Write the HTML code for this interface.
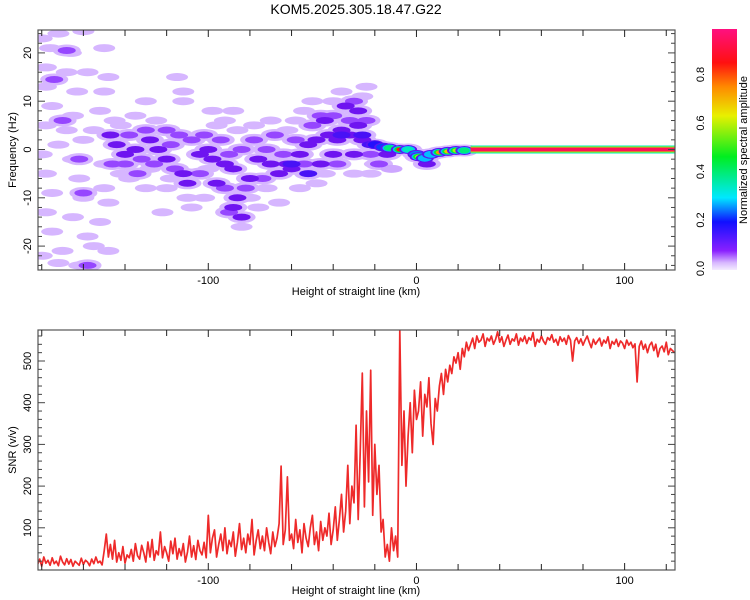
<!DOCTYPE html>
<html><head><meta charset="utf-8"><style>
body{margin:0;background:#fff;}
svg{display:block;font-family:"Liberation Sans",sans-serif;}
</style></head><body>
<svg id="fig" width="750" height="600" viewBox="0 0 750 600">
<text x="356" y="14" text-anchor="middle" font-size="14">KOM5.2025.305.18.47.G22</text>
<defs>
<linearGradient id="cb" x1="0" y1="1" x2="0" y2="0">
<stop offset="0" stop-color="#f4ecff"/><stop offset="0.03" stop-color="#d8b8ff"/>
<stop offset="0.08" stop-color="#8a20ff"/><stop offset="0.2" stop-color="#1010ff"/>
<stop offset="0.3" stop-color="#00e8ff"/><stop offset="0.47" stop-color="#00ee20"/>
<stop offset="0.64" stop-color="#e8f000"/><stop offset="0.76" stop-color="#ff8a00"/>
<stop offset="0.86" stop-color="#ff1010"/><stop offset="1" stop-color="#ff1080"/>
</linearGradient>
<clipPath id="c1"><rect x="38" y="30" width="637" height="240"/></clipPath>
<clipPath id="c2"><rect x="38" y="330" width="637" height="240"/></clipPath>
</defs>
<g id="heat" clip-path="url(#c1)"></g>
<g id="snr" clip-path="url(#c2)"></g>
<g id="axes"></g>
<rect x="712" y="29" width="25" height="241" fill="url(#cb)"/>
<g id="cbl"></g>
<text transform="translate(747,150) rotate(-90)" text-anchor="middle" font-size="11">Normalized spectral amplitude</text>
<text x="356" y="295" text-anchor="middle" font-size="11">Height of straight line (km)</text>
<text x="356" y="594" text-anchor="middle" font-size="11">Height of straight line (km)</text>
<text transform="translate(16,150) rotate(-90)" text-anchor="middle" font-size="11">Frequency (Hz)</text>
<text transform="translate(16,450) rotate(-90)" text-anchor="middle" font-size="11">SNR (v/v)</text>
</svg>
<script>
const xTicks=[-100,0,100];
const fTicks=[-20,-10,0,10,20];
const snrTicks=[100,200,300,400,500];
const cbTicks=["0.0","0.2","0.4","0.6","0.8"];
// blobs: x km, f Hz, amplitude
const blobX=[-180,-172,-160,-176,-166,-150,-178,-168,-158,-148,-178,-163,-150,-175,-165,-152,-178,-168,-155,-142,-172,-160,-180,-165,-150,-178,-162,-150,-175,-160,-148,-178,-165,-152,-175,-158,-170,-155,-180,-162,-148,-172,
-168,-174,-170,-162,-158,-160,
-145,-138,-130,-120,-112,-110,-125,-118,-108,-100,-96,-92,-86,-80,-78,-72,-70,-66,-62,-102,-128,-142,-135,-115,-112,-98,-84,-76,-88,-130,-122,
-146,-140,-138,-132,-126,-130,-118,-114,-108,-102,-94,-90,-84,-78,-82,-72,-68,-64,-92,-116,-120,-134,-104,-90,-74,
-147,-144,-140,-135,-128,-124,-120,-112,-110,-104,-100,-98,-96,-92,-88,-86,-88,-84,-80,-76,-70,-66,-62,-60,
-58,-54,-50,-44,-40,-36,-26,-24,-48,-56,-30,-22,-20,
-58,-54,-50,-46,-40,-38,-32,-24,-22,-30,
-56,-52,-48,-46,-42,-38,-36,-32,-28,-26,-30,-40,-34,-28,-44,
-60,-52,-36,-26,-22,
-18,-14,5,-12,
-20,-16,-13,-8,-4,0,1,4,7,11,15,19,23];
const blobF=[23,24,24.5,21,20,21,17,16,16,15,13,12,12,9,7,8,5,4,4,5,1,2,-1,-2,-3,-5,-6,-8,-9,-10,-11,-13,-14,-15,-17,-18,-21,-20,-22,-24,-21,-23.5,
20.5,14.5,6,-2,-24,-9,
6,-6,-8,-8,10,-10,6,-6,-12,-4,5,6,4,-10,5,-8,6,-11,4,-10,-4,-5,7,15,12,8,-16,-12,8,10,-13,
-3,-3,3,-2,-3,4,1,3,2,3,2,-1,0,2,-8,0,3,-1,-8,-4,4,-5,-5,-13,-6,
3,1,-1,0,2,0,-2,-5,-7,-1,0,-2,-7,-3,-4,-10,-12,-14,-6,-2,-3,-5,-3,-4,
6,8,10,-5,10,12,11,13,-7,-8,-5,-5,-3,
2,-3,5,7,7,-3,6,6,-1,10,
-1,1,2,-3,3,2,4,3,5,2,-1,-1,9,8,6,
-3,-5,3,3,1,
-3,-1,-3,-4,
1,0.5,0.3,0,0,-1,-1.5,-1.8,-1,-0.6,-0.4,-0.2,-0.2];
const blobA=[.035,.035,.035,.035,.035,.035,.035,.035,.035,.035,.035,.035,.035,.035,.035,.035,.035,.035,.035,.035,.035,.035,.035,.035,.035,.035,.035,.035,.035,.035,.035,.035,.035,.035,.035,.035,.035,.035,.035,.035,.035,.035,
.07,.07,.07,.07,.07,.07,
.035,.035,.035,.035,.035,.035,.035,.035,.035,.035,.035,.035,.035,.035,.035,.035,.035,.035,.035,.035,.035,.035,.035,.035,.035,.035,.035,.035,.035,.035,.035,
.07,.07,.07,.07,.07,.07,.07,.07,.07,.07,.07,.07,.07,.07,.07,.07,.07,.07,.07,.07,.07,.07,.07,.07,.07,
.1,.1,.1,.1,.1,.1,.1,.1,.1,.1,.1,.1,.1,.1,.1,.1,.1,.1,.1,.1,.1,.1,.1,.1,
.035,.035,.035,.035,.035,.035,.035,.035,.035,.035,.035,.035,.035,
.07,.07,.07,.07,.07,.07,.07,.07,.07,.07,
.1,.1,.1,.1,.1,.1,.1,.1,.1,.1,.1,.1,.1,.1,.1,
.14,.14,.14,.14,.14,
.07,.1,.1,.04,
.18,.22,.4,.85,.35,.25,.6,.3,.28,.75,.7,.6,.4];
const lineX=[26,124];
const lineF=[0];
const lineA=[0.95];
const snrStart=-182;
const snrVals=[12,25,8,30,15,22,10,28,14,20,9,32,18,11,26,13,24,8,20,15,10,27,12,22,18,9,25,14,30,16,20,11,
45,85,30,60,25,70,18,40,22,55,15,35,28,48,20,62,33,25,58,40,18,66,30,72,22,45,35,90,28,55,40,20,68,38,75,25,50,33,62,18,42,80,30,57,24,70,45,35,65,28,
130,40,75,95,30,60,85,45,100,38,70,55,90,32,65,110,48,75,40,85,60,120,35,70,95,50,80,45,100,65,38,90,55,75,110,248,60,95,222,70,
85,50,120,65,95,40,110,75,55,100,130,60,90,45,115,70,100,80,135,60,
95,150,70,120,180,90,140,250,110,200,160,346,120,280,471,150,380,210,478,130,300,180,250,90,120,
30,60,20,100,45,80,30,
575,250,380,200,320,400,280,430,360,
380,450,320,420,390,460,350,300,410,380,440,470,420,480,450,490,470,510,495,520,480,530,510,545,525,
540,555,530,560,545,550,565,535,555,548,560,540,552,570,545,558,535,550,562,540,553,548,565,538,555,547,560,542,556,550,568,535,552,545,560,548,540,556,550,563,545,552,538,558,547,555,540,561,550,500,548,556,542,553,538,550,560,545,532,552,540,548,555,536,550,543,558,530,547,540,552,535,548,543,530,550,538,545,532,541,450,535,548,528,540,520,538,545,525,540,510,530,536,522,545,515,530,525,520];

const NS='http://www.w3.org/2000/svg';
const X0=-181.8,X1=124.2,PL=38,PR=675;
const sx=v=>PL+(v-X0)/(X1-X0)*(PR-PL);
const sf=v=>149.5-v*4.83;
const ss=v=>569.5-v*0.417;
const scb=v=>268.5-v*242.5;
function mk(t,a,p){const e=document.createElementNS(NS,t);for(const k in a)e.setAttribute(k,a[k]);(p||document.getElementById('fig')).appendChild(e);return e;}
const stops=[[0,[248,242,255]],[0.035,[214,182,255]],[0.07,[150,70,255]],[0.1,[110,20,240]],[0.2,[16,16,255]],[0.3,[0,232,255]],[0.47,[0,238,32]],[0.64,[232,240,0]],[0.76,[255,138,0]],[0.86,[255,16,16]],[1,[255,16,128]]];
function cmap(a){for(let i=1;i<stops.length;i++){if(a<=stops[i][0]){const[t0,c0]=stops[i-1],[t1,c1]=stops[i];const u=(a-t0)/(t1-t0);return 'rgb('+c0.map((c,j)=>Math.round(c+(c1[j]-c)*u)).join(',')+')';}}return 'rgb(255,16,128)';}
const heat=document.getElementById('heat');
function blob(cx,cy,rx,ry,fill,name){const e=mk('ellipse',{cx:cx,cy:cy,rx:rx,ry:ry,fill:fill},heat);
  
  }
for(let i=0;i<blobX.length;i++){
  if(blobA[i]<0.06)continue;
  blob(sx(blobX[i]),sf(blobF[i]),14,6,cmap(0.035),'spectral-halo');
}
for(let i=0;i<blobX.length;i++){
  if(blobA[i]>=0.06)continue;
  blob(sx(blobX[i]),sf(blobF[i]),11,4,cmap(blobA[i]),'spectral-blob');
}
for(let i=0;i<blobX.length;i++){
  const a=blobA[i];if(a<0.06)continue;
  const cx=sx(blobX[i]),cy=sf(blobF[i]);
  if(a>0.15){
    blob(cx,cy,9,4.5,cmap(0.12),'spectral-halo');
    blob(cx,cy,7,3.5,cmap(Math.min(a,0.28)),'spectral-blob');
    if(a>0.3){blob(cx,cy,5.5,3,cmap(Math.min(a,0.45)),'spectral-core');
      blob(cx,cy,3.5,2,cmap(a),'spectral-peak');}
  } else blob(cx,cy,9,3.5,cmap(a),'spectral-blob');
}
for(let i=0;i<lineA.length;i++){
  const x0=sx(lineX[i]),x1=sx(lineX[i+1]),y=sf(lineF[i]);
  const b1=mk('rect',{x:x0,y:y-4,width:x1-x0,height:8,fill:cmap(0.35)},heat);
  
  
  const b2=mk('rect',{x:x0,y:y-3,width:x1-x0,height:6,fill:cmap(0.6)},heat);
  
  
  const b3=mk('rect',{x:x0,y:y-2,width:x1-x0,height:4,fill:cmap(lineA[i])},heat);
  
  
}
const pts=snrVals.map((v,i)=>sx(snrStart+i).toFixed(1)+','+ss(v).toFixed(1)).join(' ');
const pl=mk('polyline',{points:pts,fill:'none',stroke:'#ee2a2a','stroke-width':1.7,'stroke-linejoin':'round'},document.getElementById('snr'));



const ax=document.getElementById('axes');
function frame(top,bot,name){
  const r=mk('rect',{x:PL,y:top,width:PR-PL,height:bot-top,fill:'none',stroke:'#555','stroke-width':1.2},ax);
  
  
  for(let v=-180;v<=120;v+=20){const x=sx(v);const L=(v%100===0)?7:6;
    mk('line',{x1:x,y1:bot,x2:x,y2:bot-L,stroke:'#222'},ax);mk('line',{x1:x,y1:top,x2:x,y2:top+L,stroke:'#222'},ax);}
  xTicks.forEach(v=>{const t=mk('text',{x:sx(v),y:bot+14,'text-anchor':'middle','font-size':11},ax);t.textContent=v;
    
    });
}
frame(30,270,'spectrogram-frame');
frame(330,570,'snr-frame');
for(let v=-24;v<=24;v+=2){const y=sf(v),L=v%10===0?7:4;
  mk('line',{x1:PL,y1:y,x2:PL+L,y2:y,stroke:'#444'},ax);mk('line',{x1:PR,y1:y,x2:PR-L,y2:y,stroke:'#444'},ax);}
fTicks.forEach(v=>{const t=mk('text',{transform:'translate(31,'+sf(v)+') rotate(-90)','text-anchor':'middle','font-size':11},ax);t.textContent=v;
  
  });
for(let v=20;v<=560;v+=20){const y=ss(v),L=v%100===0?7:4;
  mk('line',{x1:PL,y1:y,x2:PL+L,y2:y,stroke:'#444'},ax);mk('line',{x1:PR,y1:y,x2:PR-L,y2:y,stroke:'#444'},ax);}
snrTicks.forEach(v=>{const t=mk('text',{transform:'translate(31,'+ss(v)+') rotate(-90)','text-anchor':'middle','font-size':11},ax);t.textContent=v;
  
  });
const cbl=document.getElementById('cbl');
cbTicks.forEach(s=>{const t=mk('text',{transform:'translate(704,'+scb(parseFloat(s))+') rotate(-90)','text-anchor':'middle','font-size':11},cbl);t.textContent=s;
  
  });
</script>
</body></html>
